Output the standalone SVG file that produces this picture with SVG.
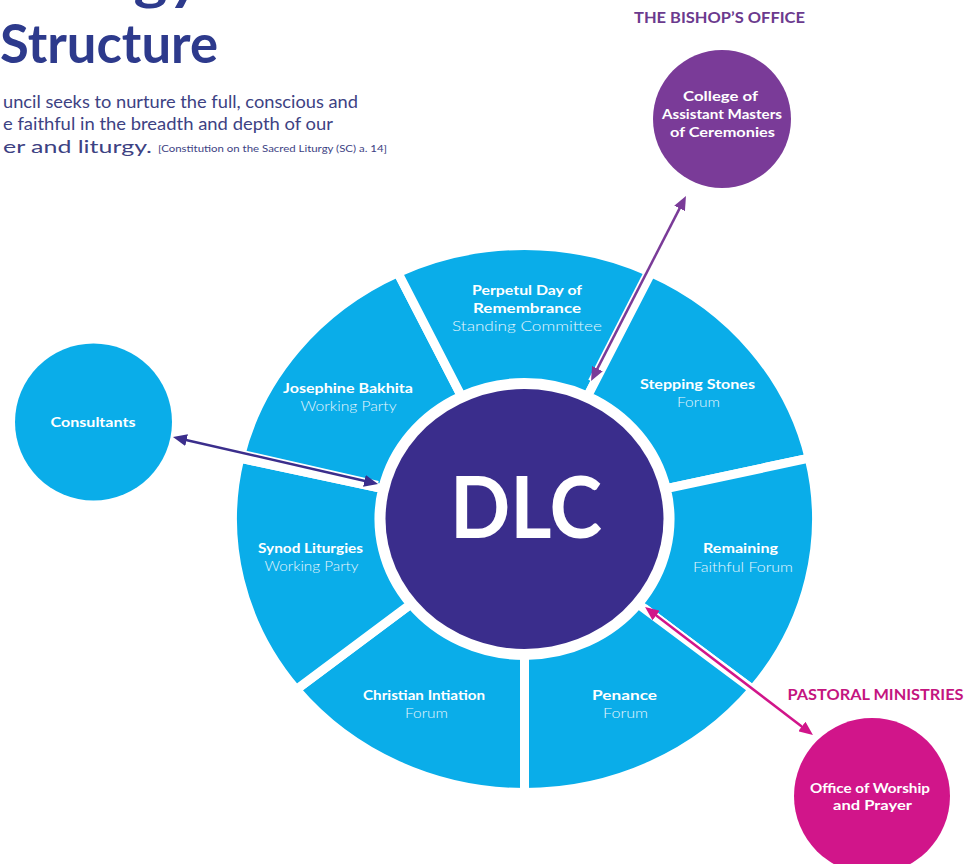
<svg xmlns="http://www.w3.org/2000/svg" width="965" height="864" viewBox="0 0 965 864">
<style>
text{font-family:Lato,"Open Sans","Liberation Sans",sans-serif;text-anchor:middle}
.seg{fill:#0AADE9;stroke:#fff;stroke-width:9;stroke-linejoin:round}
.t{font-weight:bold;font-size:14px;fill:#fff}
.s{font-weight:300;font-size:14px;fill:#e6f6fd}
.title{font-weight:bold;font-size:54px;fill:#2D3A8C;text-anchor:start}
.para{font-size:16.5px;fill:#3D4283;text-anchor:start}
.case{stroke:#fff;stroke-width:6;fill:none}
.ln{stroke-width:2.5;fill:none}
</style>
<defs>
<marker id="mDark" viewBox="0 0 14 12" markerWidth="14" markerHeight="12" refX="4" refY="6" orient="auto-start-reverse" markerUnits="userSpaceOnUse"><path d="M0,0 L14,6 L0,12 z" fill="#3B2E8C"/></marker>
<marker id="mPurple" viewBox="0 0 14 12" markerWidth="14" markerHeight="12" refX="4" refY="6" orient="auto-start-reverse" markerUnits="userSpaceOnUse"><path d="M0,0 L14,6 L0,12 z" fill="#7A3B98"/></marker>
<marker id="mPink" viewBox="0 0 14 12" markerWidth="14" markerHeight="12" refX="4" refY="6" orient="auto-start-reverse" markerUnits="userSpaceOnUse"><path d="M0,0 L14,6 L0,12 z" fill="#D1158A"/></marker>
</defs>
<rect width="965" height="864" fill="#fff"/>

<g id="header">
<text class="title" x="0" y="-1" textLength="430" lengthAdjust="spacingAndGlyphs">Liturgy Council</text>
<text class="title" x="0" y="63" textLength="218" lengthAdjust="spacingAndGlyphs">Structure</text>
<text class="para" x="3" y="107.5" textLength="355" lengthAdjust="spacingAndGlyphs">uncil seeks to nurture the full, conscious and</text>
<text class="para" x="3" y="130" textLength="330" lengthAdjust="spacingAndGlyphs">e faithful in the breadth and depth of our</text>
<text class="para" x="3" y="152.5" textLength="149" lengthAdjust="spacingAndGlyphs">er and liturgy.</text>
<text class="para" x="158" y="151.5" style="font-size:10px" textLength="229" lengthAdjust="spacingAndGlyphs">[Constitution on the Sacred Liturgy (SC) a. 14]</text>
</g>

<g id="seg-christian">
<path class="seg" d="M524.5,792.5 A292,273.5 0 0 1 296.21,689.52 L410.74,604.11 A145.5,136.5 0 0 0 524.5,655.5 Z"/>
<text class="t" x="424" y="700" textLength="122" lengthAdjust="spacingAndGlyphs">Christian Intiation</text>
<text class="s" x="426.5" y="718" textLength="43" lengthAdjust="spacingAndGlyphs">Forum</text>
</g>
<g id="seg-synod">
<path class="seg" d="M296.21,689.52 A292,273.5 0 0 1 239.82,458.14 L382.65,488.63 A145.5,136.5 0 0 0 410.74,604.11 Z"/>
<text class="t" x="310.5" y="553" textLength="105" lengthAdjust="spacingAndGlyphs">Synod Liturgies</text>
<text class="s" x="311.5" y="571" textLength="94" lengthAdjust="spacingAndGlyphs">Working Party</text>
</g>
<g id="seg-josephine">
<path class="seg" d="M239.82,458.14 A292,273.5 0 0 1 397.81,272.58 L461.37,396.02 A145.5,136.5 0 0 0 382.65,488.63 Z"/>
<text class="t" x="348" y="393" textLength="130" lengthAdjust="spacingAndGlyphs">Josephine Bakhita</text>
<text class="s" x="348.5" y="411" textLength="96" lengthAdjust="spacingAndGlyphs">Working Party</text>
</g>
<g id="seg-perpetul">
<path class="seg" d="M397.81,272.58 A292,273.5 0 0 1 651.19,272.58 L587.63,396.02 A145.5,136.5 0 0 0 461.37,396.02 Z"/>
<text class="t" x="527" y="295" textLength="110" lengthAdjust="spacingAndGlyphs">Perpetul Day of</text>
<text class="t" x="527" y="313" textLength="108" lengthAdjust="spacingAndGlyphs">Remembrance</text>
<text class="s" x="527" y="331" textLength="150" lengthAdjust="spacingAndGlyphs">Standing Committee</text>
</g>
<g id="seg-stepping">
<path class="seg" d="M651.19,272.58 A292,273.5 0 0 1 809.18,458.14 L666.35,488.63 A145.5,136.5 0 0 0 587.63,396.02 Z"/>
<text class="t" x="697.5" y="389" textLength="115" lengthAdjust="spacingAndGlyphs">Stepping Stones</text>
<text class="s" x="698.5" y="407" textLength="43" lengthAdjust="spacingAndGlyphs">Forum</text>
</g>
<g id="seg-remaining">
<path class="seg" d="M809.18,458.14 A292,273.5 0 0 1 752.79,689.52 L638.26,604.11 A145.5,136.5 0 0 0 666.35,488.63 Z"/>
<text class="t" x="740.5" y="553" textLength="75" lengthAdjust="spacingAndGlyphs">Remaining</text>
<text class="s" x="743" y="572" textLength="100" lengthAdjust="spacingAndGlyphs">Faithful Forum</text>
</g>
<g id="seg-penance">
<path class="seg" d="M752.79,689.52 A292,273.5 0 0 1 524.5,792.5 L524.5,655.5 A145.5,136.5 0 0 0 638.26,604.11 Z"/>
<text class="t" x="624.5" y="700" textLength="65" lengthAdjust="spacingAndGlyphs">Penance</text>
<text class="s" x="625.5" y="718" textLength="45" lengthAdjust="spacingAndGlyphs">Forum</text>
</g>

<g id="dlc">
<ellipse cx="524.5" cy="519" rx="139" ry="130" fill="#3A2D8C"/>
<text x="526" y="538" style="font-weight:bold;font-size:86px;fill:#fff" textLength="152" lengthAdjust="spacingAndGlyphs">DLC</text>
</g>

<g id="consultants">
<circle cx="93.5" cy="422" r="78.5" fill="#0AADE9"/>
<text class="t" x="93" y="427" textLength="85" lengthAdjust="spacingAndGlyphs">Consultants</text>
</g>

<g id="bishops-office">
<text x="719.5" y="23" style="font-weight:bold;font-size:15px;fill:#6B3A8E" textLength="171" lengthAdjust="spacingAndGlyphs">THE BISHOP’S OFFICE</text>
<circle cx="722" cy="119" r="69" fill="#7A3B98"/>
<text class="t" x="720.5" y="101" textLength="75" lengthAdjust="spacingAndGlyphs">College of</text>
<text class="t" x="722" y="119" textLength="120" lengthAdjust="spacingAndGlyphs">Assistant Masters</text>
<text class="t" x="722.5" y="137" textLength="105" lengthAdjust="spacingAndGlyphs">of Ceremonies</text>
</g>

<g id="pastoral-ministries">
<text x="875.5" y="700" style="font-weight:bold;font-size:15px;fill:#C4157F" textLength="176" lengthAdjust="spacingAndGlyphs">PASTORAL MINISTRIES</text>
<circle cx="872" cy="796" r="78" fill="#D1158A"/>
<text class="t" x="870" y="793" textLength="120" lengthAdjust="spacingAndGlyphs">Office of Worship</text>
<text class="t" x="872.5" y="810" textLength="79" lengthAdjust="spacingAndGlyphs">and Prayer</text>
</g>

<g id="connectors">
<line class="case" x1="173" y1="437" x2="378" y2="484"/>
<line class="ln" x1="182.7" y1="439.2" x2="368.3" y2="481.8" stroke="#3B2E8C" marker-start="url(#mDark)" marker-end="url(#mDark)"/>
<line class="case" x1="686" y1="196" x2="591" y2="381"/>
<line class="ln" x1="681.4" y1="204.9" x2="595.6" y2="372.1" stroke="#7A3B98" marker-start="url(#mPurple)" marker-end="url(#mPurple)"/>
<line class="case" x1="645" y1="607" x2="813" y2="735"/>
<line class="ln" x1="653" y1="613.1" x2="805" y2="728.9" stroke="#D1158A" marker-start="url(#mPink)" marker-end="url(#mPink)"/>
</g>
</svg>
